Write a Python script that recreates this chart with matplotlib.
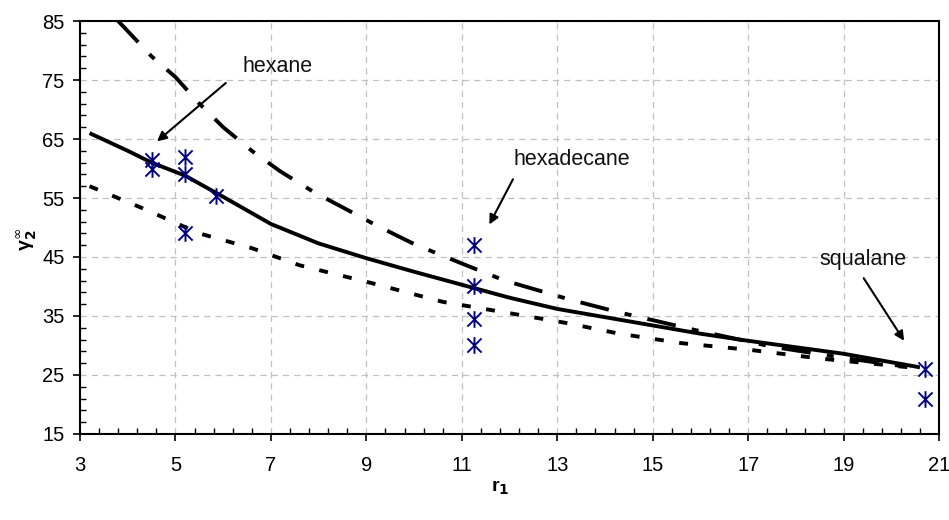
import matplotlib
matplotlib.use("Agg")
import matplotlib.pyplot as plt
from matplotlib.path import Path
from matplotlib.ticker import FixedLocator
import numpy as np

plt.rcParams['font.family'] = ['Liberation Sans', 'DejaVu Sans']

# Experimental points
exp_x = [4.5, 4.5, 5.2, 5.2, 5.85, 5.2, 11.25, 11.25, 11.25, 11.25, 20.7, 20.7]
exp_y = [60.0, 61.5, 62.0, 59.0, 55.3, 49.0, 47.0, 40.0, 34.5, 30.0, 26.0, 21.0]

# Solid model curve
solid_x = [3.2, 4.0, 4.5, 5.2, 6.0, 7.0, 8.0, 9.0, 10.0, 11.0, 12.0, 13.0, 14.0, 15.0, 16.0, 17.0, 18.0, 19.0, 20.6]
solid_y = [66.0, 63.0, 61.0, 58.8, 55.2, 50.6, 47.3, 44.8, 42.5, 40.3, 38.1, 36.2, 34.8, 33.4, 32.0, 30.8, 29.7, 28.6, 26.3]

# Dash-dot model curve
dashdot_x = [3.8, 4.5, 5.0, 5.5, 6.0, 6.6, 7.2, 7.9, 8.6, 9.2, 10.0, 11.0, 11.9, 13.3, 14.3, 15.0, 15.9, 17.5, 19.0, 20.5]
dashdot_y = [85.0, 79.0, 75.5, 71.0, 67.0, 63.0, 59.5, 56.0, 53.0, 50.4, 47.2, 43.9, 41.0, 37.7, 35.6, 34.3, 32.6, 29.8, 27.9, 26.2]

# Dotted model curve
dotted_x = [3.2, 4.3, 5.5, 6.6, 7.6, 9.1, 10.6, 12.2, 13.2, 14.3, 15.6, 17.1, 18.5, 20.5]
dotted_y = [57.0, 53.3, 49.0, 46.5, 43.6, 40.6, 37.4, 35.2, 33.8, 32.0, 30.4, 29.2, 27.8, 26.2]

x_ticks = [3, 5, 7, 9, 11, 13, 15, 17, 19, 21]
y_ticks = [15, 25, 35, 45, 55, 65, 75, 85]

labels = ["hexane", "hexadecane", "squalane"]
label_xy = [(7.14, 76.4), (13.3, 60.6), (19.4, 43.6)]
arrow_from = [(6.1, 74.8), (12.1, 58.6), (19.39, 41.8)]
arrow_to = [(4.57, 64.3), (11.55, 50.1), (20.3, 30.4)]

fig = plt.figure(figsize=(9.49, 5.2), dpi=100)
ax = fig.add_axes([0.0843, 0.1654, 0.9052, 0.7942])

ax.set_xlim(3, 21)
ax.set_ylim(15, 85)
ax.xaxis.set_major_locator(FixedLocator(x_ticks))
ax.xaxis.set_minor_locator(FixedLocator(np.arange(3, 21.01, 0.4)))
ax.yaxis.set_major_locator(FixedLocator(y_ticks))
ax.yaxis.set_minor_locator(FixedLocator(np.arange(15, 85.01, 2)))
ax.tick_params(which='major', direction='out', length=5, width=1.2, labelsize=14.5)
ax.tick_params(which='minor', direction='in', length=4, width=1.0)
ax.tick_params(axis='x', which='major', pad=11)
ax.tick_params(axis='y', which='major', pad=6)

ax.grid(True, which='major', color='#c0c0c0', linestyle=(0, (5, 4)), linewidth=0.9)
ax.set_axisbelow(True)
for s in ax.spines.values():
    s.set_linewidth(1.5)
    s.set_color('black')

ax.plot(solid_x, solid_y, color='black', lw=2.8, solid_capstyle='butt')
ax.plot(dashdot_x, dashdot_y, color='black', lw=2.8, linestyle=(0, (7.5, 4.2, 1.8, 4.2)))
ax.plot(dotted_x, dotted_y, color='black', lw=2.8, linestyle=(0, (2.3, 4.0)))

star = Path([(0, -1), (0, 1), (-0.85, -0.85), (0.85, 0.85), (-0.85, 0.85), (0.85, -0.85)],
            [Path.MOVETO, Path.LINETO, Path.MOVETO, Path.LINETO, Path.MOVETO, Path.LINETO])
ax.plot(exp_x, exp_y, linestyle='none', marker=star, markersize=12,
        markeredgecolor='#000080', markerfacecolor='none', markeredgewidth=1.4, clip_on=False, zorder=5)

for lab, lxy, af, at in zip(labels, label_xy, arrow_from, arrow_to):
    ax.text(lxy[0], lxy[1], lab, fontsize=15.5, ha='center', va='baseline', color='#111111')
    ax.annotate('', xy=at, xytext=af,
                arrowprops=dict(arrowstyle='-|>', color='black', lw=1.5, mutation_scale=14))

fig.text(500 / 949, 1 - 488 / 520, 'r$_\\mathbf{1}$', fontsize=14, fontweight='bold',
         ha='center', va='center')
fig.text(27 / 949, 1 - 240 / 520, 'γ$_\\mathbf{2}^{\\infty}$', fontsize=14, fontweight='bold',
         ha='center', va='center', rotation=90)

fig.savefig('out.png', dpi=100)
